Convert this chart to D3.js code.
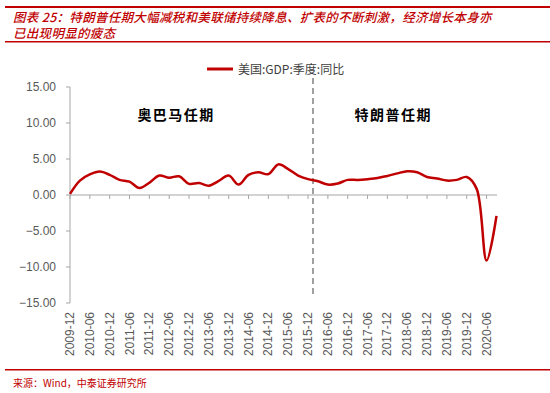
<!DOCTYPE html>
<html>
<head>
<meta charset="utf-8">
<script src="https://cdnjs.cloudflare.com/ajax/libs/d3/7.8.5/d3.min.js"></script>
<style>
  body { margin: 0; background: #fff; }
  svg { display: block; }
</style>
</head>
<body>
<svg id="chart" width="550" height="393"></svg>
<script>
// 1: DATA
const quarters = [
  "2009-12", "2010-03", "2010-06", "2010-09", "2010-12", "2011-03", "2011-06", "2011-09",
  "2011-12", "2012-03", "2012-06", "2012-09", "2012-12", "2013-03", "2013-06", "2013-09",
  "2013-12", "2014-03", "2014-06", "2014-09", "2014-12", "2015-03", "2015-06", "2015-09",
  "2015-12", "2016-03", "2016-06", "2016-09", "2016-12", "2017-03", "2017-06", "2017-09",
  "2017-12", "2018-03", "2018-06", "2018-09", "2018-12", "2019-03", "2019-06", "2019-09",
  "2019-12", "2020-03", "2020-06", "2020-09"
];
const gdpYoY = [
  0.15, 2.0, 2.85, 3.25, 2.8, 2.1, 1.85, 0.97,
  1.7, 2.7, 2.4, 2.6, 1.55, 1.65, 1.3, 1.95,
  2.7, 1.45, 2.8, 3.15, 2.9, 4.25, 3.6, 2.7,
  2.2, 1.9, 1.45, 1.6, 2.1, 2.1, 2.2, 2.35,
  2.65, 3.0, 3.3, 3.15, 2.5, 2.3, 2.0, 2.1,
  2.5, 0.85, -9.1, -2.9
];
const yTicks = [15, 10, 5, 0, -5, -10, -15];
const seriesName = "美国:GDP:季度:同比";
const periods = [
  { name: "奥巴马任期", at: 10.7 },
  { name: "特朗普任期", at: 32.6 }
];
const dividerAt = 24.5; // between 2015-12 and 2016-03
const titleLines = [
  "图表 25：特朗普任期大幅减税和美联储持续降息、扩表的不断刺激，经济增长本身亦",
  "已出现明显的疲态"
];
const sourceText = "来源：Wind，中泰证券研究所";

// 2: LAYOUT
const svg = d3.select("#chart");
const red = "#c00000";
const axisColor = "#a6a6a6";
const textColor = "#595959";
const plot = { left: 70, right: 497, top: 87, bottom: 303 };

// header / footer rules and text
svg.append("rect").attr("x", 5).attr("y", 6).attr("width", 545).attr("height", 2).attr("fill", red);
svg.append("rect").attr("x", 5).attr("y", 41).attr("width", 545).attr("height", 1.5).attr("fill", red);
svg.append("rect").attr("x", 5).attr("y", 369).attr("width", 545).attr("height", 1.5).attr("fill", red);

svg.selectAll(".title")
  .data(titleLines)
  .enter().append("text")
  .attr("x", 13)
  .attr("y", (d, i) => 21.5 + i * 16.5)
  .attr("fill", red)
  .style("font-family", "'Noto Sans CJK SC', sans-serif")
  .style("font-size", "12.5px")
  .style("letter-spacing", "0.3px")
  .style("font-style", "italic")
  .style("font-weight", 500)
  .text(d => d);

svg.append("text")
  .attr("x", 13)
  .attr("y", 387)
  .attr("fill", red)
  .style("font-family", "'Noto Sans CJK SC', sans-serif")
  .style("font-size", "10px")
  .text(sourceText);

// 3: SCALES
const x = d3.scaleLinear()
  .domain([0, quarters.length - 1])
  .range([plot.left, 496.5]);

const y = d3.scaleLinear()
  .domain([-15, 15])
  .range([plot.bottom, plot.top]);

// 4: AXES
const g = svg.append("g");

// y axis
g.append("line")
  .attr("x1", plot.left).attr("x2", plot.left)
  .attr("y1", y(15)).attr("y2", y(-15))
  .attr("stroke", axisColor);
g.selectAll(".ytick")
  .data(yTicks)
  .enter().append("line")
  .attr("x1", plot.left - 4).attr("x2", plot.left)
  .attr("y1", d => y(d)).attr("y2", d => y(d))
  .attr("stroke", axisColor);
g.selectAll(".ylabel")
  .data(yTicks)
  .enter().append("text")
  .attr("x", 56)
  .attr("y", d => y(d) + 4)
  .attr("text-anchor", "end")
  .attr("fill", textColor)
  .style("font-family", "'Liberation Sans', Arial, sans-serif")
  .style("font-size", "12px")
  .text(d => d3.format(".2f")(d));

// x axis at zero
g.append("line")
  .attr("x1", plot.left).attr("x2", plot.right)
  .attr("y1", y(0)).attr("y2", y(0))
  .attr("stroke", axisColor);

const labelIdx = d3.range(0, quarters.length, 2);
g.selectAll(".xtick")
  .data(labelIdx)
  .enter().append("line")
  .attr("x1", d => x(d)).attr("x2", d => x(d))
  .attr("y1", y(0)).attr("y2", y(0) + 4)
  .attr("stroke", axisColor);

g.selectAll(".xlabel")
  .data(labelIdx)
  .enter().append("text")
  .attr("transform", d => `translate(${x(d) + 4},${plot.bottom + 9}) rotate(-90)`)
  .attr("text-anchor", "end")
  .attr("fill", textColor)
  .style("font-family", "'Liberation Sans', Arial, sans-serif")
  .style("font-size", "12px")
  .text(d => quarters[d]);

// 5: DIVIDER AND PERIOD LABELS
g.append("line")
  .attr("x1", x(dividerAt)).attr("x2", x(dividerAt))
  .attr("y1", 78).attr("y2", 297)
  .attr("stroke", "#808080")
  .attr("stroke-width", 1.5)
  .attr("stroke-dasharray", "6,4");

g.selectAll(".period")
  .data(periods)
  .enter().append("text")
  .attr("x", d => x(d.at))
  .attr("y", 120)
  .attr("text-anchor", "middle")
  .attr("fill", "#000")
  .style("font-family", "'Noto Sans CJK SC', sans-serif")
  .style("font-size", "14px")
  .style("font-weight", "bold")
  .style("letter-spacing", "1.5px")
  .text(d => d.name);

// 6: LINE
const line = d3.line()
  .x((d, i) => x(i))
  .y(d => y(d))
  .curve(d3.curveCatmullRom.alpha(0.5));

g.append("path")
  .datum(gdpYoY)
  .attr("fill", "none")
  .attr("stroke", red)
  .attr("stroke-width", 2.5)
  .attr("stroke-linejoin", "round")
  .attr("d", line);

// 7: LEGEND
g.append("line")
  .attr("x1", 207).attr("x2", 233)
  .attr("y1", 69).attr("y2", 69)
  .attr("stroke", red)
  .attr("stroke-width", 3);
g.append("text")
  .attr("x", 238)
  .attr("y", 73.5)
  .attr("fill", "#404040")
  .style("font-family", "'Noto Sans CJK SC', sans-serif")
  .style("font-size", "12px")
  .text(seriesName);
</script>
</body>
</html>
